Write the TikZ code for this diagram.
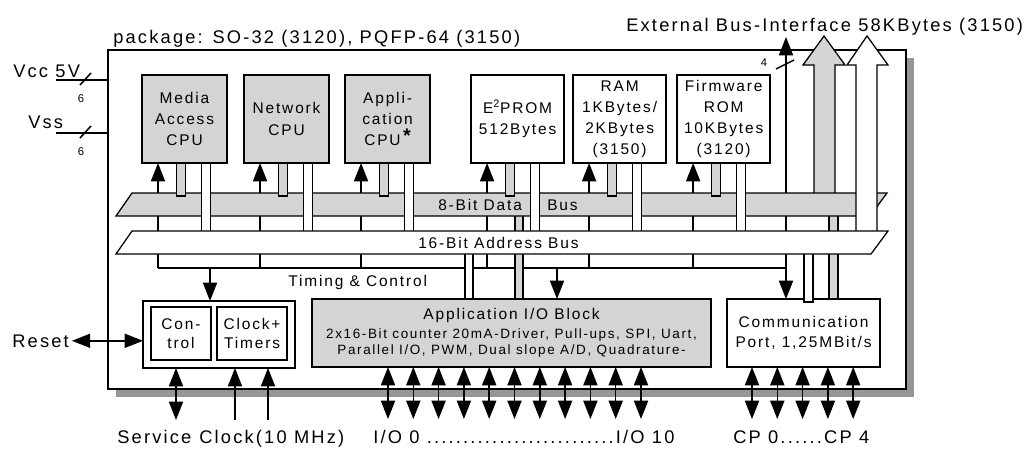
\documentclass[tikz,border=0pt]{standalone}
\usepackage{fontspec}
\setmainfont{Liberation Sans}[LetterSpace=12]
\usetikzlibrary{positioning,arrows.meta,shadows}
\definecolor{blockgray}{RGB}{212,212,212}
\definecolor{shadowgray}{RGB}{150,150,150}
\tikzset{cpu node/.style={draw,fill=blockgray,line width=1.1pt,outer sep=0pt,inner sep=0pt,minimum width=2.125cm,minimum height=2.2cm,align=center,font=\fontsize{11}{15}\selectfont},
	mem node/.style={cpu node,fill=white,minimum width=2.325cm},
	io node/.style={draw,line width=1.1pt,outer sep=0pt,inner sep=0pt,minimum height=1.7cm,align=center,font=\fontsize{11}{13.7}\selectfont},
	ctl node/.style={draw,line width=1.1pt,outer sep=0pt,inner sep=0pt,minimum height=1.325cm,align=center,font=\fontsize{11}{13.2}\selectfont},
	big text/.style={inner sep=0pt,font=\fontsize{13}{15}\selectfont},
	bus text/.style={inner sep=0pt,font=\fontsize{11}{13}\selectfont},
	small text/.style={inner sep=0pt,font=\fontsize{8}{9}\selectfont},
	sig/.style={line width=1.1pt},
	tip/.tip={Triangle[length=13pt,width=10pt]},
	ctrl/.style={sig,-tip},
	bidir/.style={sig,tip-tip},
	data bar/.style={draw,fill=blockgray,line width=0.9pt},
	addr bar/.style={draw,fill=white,line width=0.9pt},
}
\begin{document}
\begin{tikzpicture}[x=0.025cm,y=-0.025cm]
				\useasboundingbox (0,0) rectangle (1026,449);
				% package
				\node[draw,fill=white,line width=1.6pt,minimum width=19.95cm,minimum height=8.475cm,
					drop shadow={fill=shadowgray,opacity=1,shadow xshift=0.2cm,shadow yshift=-0.2cm}] (PKG) at (507,219.5) {};
				\node[big text,anchor=base west] (pkgname) at (113,43) {package: SO-32 (3120), PQFP-64 (3150)};
				\node[big text,anchor=base west] (extname) at (626,31.5) {External Bus-Interface 58KBytes (3150)};
				
				% supply pins
				\node[big text,anchor=base west] (vcc) at (13,77) {Vcc 5V};
				\node[big text,anchor=base west] (vss) at (28,128) {Vss};
				\coordinate (vccin) at (56,80);
				\coordinate (vssin) at (56,133);
				\foreach \p in {vccin,vssin}{
					\draw[sig] (\p) -- (\p -| PKG.west);
					\draw[sig] ([shift={(24,5)}]\p) -- ([shift={(35,-7)}]\p);
					\node[small text] (\p6) at ([shift={(25,19)}]\p) {6};
				}
				
				% CPUs and memories
				\node[cpu node,anchor=north west] (MAC) at (142,75) {Media\\Access\\CPU};
				\node[cpu node] (NET) [right=0.425cm of MAC] {Network\\CPU};
				\node[cpu node] (APP) [right=0.4cm of NET] {Appli-\\cation\\CPU\,\raisebox{2.5pt}{\fontsize{14}{14}\selectfont\bfseries *}};
				\node[mem node] (EEP) [right=1.025cm of APP] {E\textsuperscript{2}PROM\\512Bytes};
				\node[mem node] (RAM) [right=0.225cm of EEP] {RAM\\1KBytes/\\2KBytes\\(3150)};
				\node[mem node] (ROM) [right=0.275cm of RAM] {Firmware\\ROM\\10KBytes\\(3120)};
				\foreach \b in {MAC,NET,APP,EEP,RAM,ROM}
					\path (\b.south west) ++(16,0) coordinate (c\b) ++(23,0) coordinate (d\b) ++(25,0) coordinate (a\b);
				
				% lower blocks
				\node[io node,fill=blockgray,minimum width=9.975cm,anchor=north west,font=\fontsize{9.6}{11.4}\selectfont] (IOB) at (312,299)
					{{\fontsize{11}{13}\selectfont Application I/O Block}\\[2pt]2x16-Bit counter 20mA-Driver, Pull-ups, SPI, Uart,\\Parallel I/O, PWM, Dual slope A/D, Quadrature-};
				\node[io node,fill=white,minimum width=3.825cm,anchor=north west] (COM) at (727,299) {Communication\\Port, 1,25MBit/s};
				\node[draw,line width=1.1pt,outer sep=0pt,minimum width=3.8cm,minimum height=1.675cm,anchor=north west] (CTLBOX) at (143,301) {};
				\node[ctl node,minimum width=1.5cm,anchor=north west] (CTL) at (151,307) {Con-\\trol};
				\node[ctl node,minimum width=1.75cm] (CLK) [right=0.15cm of CTL] {Clock+\\Timers};
				
				% timing & control
				\coordinate (tl) at (158,268);
				\coordinate (tr) at (786,268);
				\coordinate (tc) at (210,268);
				\coordinate (ti) at (557,268);
				\coordinate (ext4) at (786,37);
				\draw[sig] (tl) -- (tr);
				\foreach \b in {MAC,NET,APP,EEP,RAM,ROM}
					\draw[ctrl] (c\b |- tl) -- (c\b);
				\draw[ctrl] (tr) -- (ext4);
				\draw[ctrl] (tr) -- (tr |- COM.north);
				\draw[ctrl] (tc) -- (tc |- CTLBOX.north);
				\draw[ctrl] (ti) -- (ti |- IOB.north);
				\node[bus text,anchor=base west] (tctext) at (288,286) {Timing \& Control};
				
				% data bus
				\draw[data bar] (515,214) rectangle (523,299);
				\draw[data bar] (829,214) rectangle (838,299);
				\filldraw[fill=blockgray,line width=0.9pt] (814,193) -- (814,65) -- (803,65) -- (824,36) -- (845,65) -- (835,65) -- (835,193);
				\filldraw[fill=blockgray,line width=0.9pt] (116,216) -- (132,193) -- (887,193) -- (870,216) -- cycle;
				\foreach \b in {MAC,NET,APP,EEP,RAM,ROM}
					\draw[data bar] (d\b) ++(-4.5,0) rectangle ++(9,33);
				
				% address bus
				\foreach \b in {MAC,NET,APP,EEP,RAM,ROM}
					\draw[addr bar] (a\b) ++(-4.5,0) rectangle ++(9,70);
				\draw[addr bar] (465,250) rectangle (473,299);
				\draw[addr bar] (804,250) rectangle (813,302);
				\filldraw[fill=white,line width=0.9pt] (856,233) -- (856,65) -- (847,65) -- (867,36) -- (888,65) -- (877,65) -- (877,233);
				\filldraw[fill=white,line width=0.9pt] (116,254) -- (132,231) -- (888,231) -- (871,254) -- cycle;
				\node[bus text,anchor=base west] (dbtext) at (438,210) {8-Bit Data};
				\node[bus text,anchor=base west] (dbbus) at (547,210) {Bus};
				\node[bus text,anchor=base west] (abtext) at (418,248) {16-Bit Address Bus};
				
				\node[small text] (four) at (764,63) {4};
				\draw[sig] (776,69) -- (794,60);
				
				% pins
				\node[big text,anchor=base west] (reset) at (12,347) {Reset};
				\draw[bidir] ([xshift=2pt]reset.east) -- (reset.east -| CTLBOX.west);
				\coordinate (svc) at (176,420);
				\draw[bidir] (svc) -- (svc |- CTLBOX.south);
				\foreach \x [count=\i] in {235,268}{
					\coordinate (clk\i) at (\x,420);
					\draw[ctrl] (clk\i) -- (clk\i |- CTLBOX.south);
				}
				\foreach \i in {0,...,10}{
					\coordinate (io\i) at ({388+25.3*\i},419);
					\draw[bidir] (io\i) -- (io\i |- IOB.south);
				}
				\foreach \i in {0,...,4}{
					\coordinate (cp\i) at ({752+25.3*\i},419);
					\draw[bidir] (cp\i) -- (cp\i |- COM.south);
				}
				\node[big text,anchor=base west] (svctext) at (117,443) {Service};
				\node[big text,anchor=base west] (clktext) at (199,443) {Clock(10 MHz)};
				\node[big text,anchor=base west] (iotext) at (373,443) {I/O 0 ..........................I/O 10};
				\node[big text,anchor=base west] (cptext) at (733,443) {CP 0......CP 4};
\end{tikzpicture}
\end{document}
